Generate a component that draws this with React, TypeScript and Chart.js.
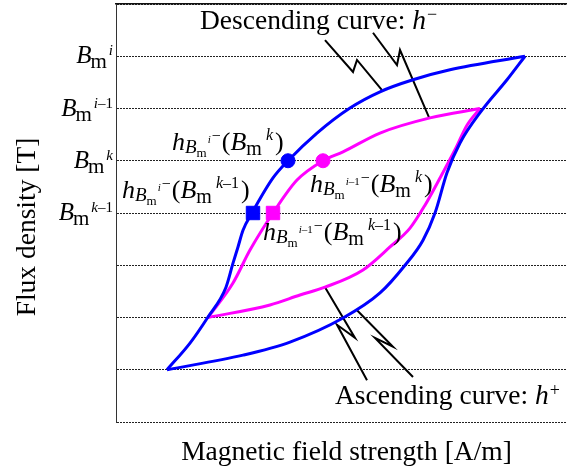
import React, { useEffect, useRef } from 'react';
import Chart from 'chart.js/auto';

const FONT = '"Liberation Serif", "Times New Roman", Times, serif';

// Outer (blue) loop: descending branch h- and ascending branch h+
const blueDescH = [409, 334, 297, 264, 234, 201, 172, 157, 136, 127, 122, 117, 110, 92, 74, 51];
const blueDescB = [7.0, 6.74, 6.55, 6.32, 6.01, 5.53, 5.0, 4.67, 4.0, 3.67, 3.35, 3.04, 2.58, 2.01, 1.51, 1.0];
const blueAscH = [51, 127, 174, 227, 264, 289, 307, 319, 331, 344, 366, 391, 409];
const blueAscB = [1.0, 1.28, 1.53, 1.99, 2.47, 3.0, 3.48, 4.0, 4.77, 5.34, 5.97, 6.55, 7.0];

// Inner (magenta) loop
const magDescH = [364, 314, 264, 227, 207, 181, 157, 134, 117, 92];
const magDescB = [6.0, 5.82, 5.53, 5.17, 5.0, 4.63, 4.0, 3.29, 2.66, 2.0];
const magAscH = [92, 154, 184, 209, 247, 274, 294, 309, 324, 339, 351, 364];
const magAscB = [2.0, 2.24, 2.43, 2.58, 2.91, 3.35, 3.71, 4.15, 4.67, 5.21, 5.68, 6.0];

// Marked points
const blueCircleH = [172];
const blueCircleB = [5];
const magCircleH = [207];
const magCircleB = [5];
const blueSquareH = [137];
const blueSquareB = [4];
const magSquareH = [157];
const magSquareB = [4];

// Zig-zag leader lines
const leadDesc1H = [209, 237, 241, 266];
const leadDesc1B = [7.31, 6.7, 6.93, 6.35];
const leadDesc2H = [257, 281, 284, 313];
const leadDesc2B = [7.45, 6.83, 7.12, 5.83];
const leadAsc1H = [209, 239, 221, 251];
const leadAsc1B = [2.58, 1.61, 1.86, 0.8];
const leadAsc2H = [241, 277, 259, 297];
const leadAsc2B = [2.14, 1.44, 1.61, 0.86];

// Y tick labels B_m^(sup)
const yTickValues = [7, 6, 5, 4];
const yTickSups = ['i', 'i–1', 'k', 'k–1'];

// h-labels
const hSubSups = ['i', 'i', 'i–1', 'i–1'];
const hArgSups = ['k', 'k–1', 'k', 'k–1'];
const hAnchorH = [56, 6, 194, 147];
const hAnchorB = [5.21, 4.29, 4.4, 3.48];

const X_MIN = 0;
const X_MAX = 451;
const Y_MIN = 0;
const Y_MAX = 8;

type Run = { t: string; s: number; it?: boolean; dy?: number; dx?: number };

const fontOf = (r: Run) => `${r.it ? 'italic ' : ''}${r.s}px ${FONT}`;

function runsWidth(ctx: CanvasRenderingContext2D, runs: Run[]) {
  let w = 0;
  for (const r of runs) {
    ctx.font = fontOf(r);
    w += (r.dx || 0) + ctx.measureText(r.t).width;
  }
  return w;
}

function drawRuns(ctx: CanvasRenderingContext2D, runs: Run[], x: number, y: number, align: 'left' | 'right' = 'left') {
  let cx = align === 'right' ? x - runsWidth(ctx, runs) : x;
  ctx.textAlign = 'left';
  ctx.textBaseline = 'alphabetic';
  for (const r of runs) {
    cx += r.dx || 0;
    ctx.font = fontOf(r);
    ctx.fillText(r.t, cx, y + (r.dy || 0));
    cx += ctx.measureText(r.t).width;
  }
}

function supRuns(text: string, s: number, dy: number, dx: number): Run[] {
  const out: Run[] = [{ t: text[0], s, it: true, dy, dx }];
  if (text.length > 1) out.push({ t: text.slice(1), s, dy });
  return out;
}

const tickRuns = (sup: string): Run[] => [
  { t: 'B', s: 25, it: true, dy: 7 },
  { t: 'm', s: 21, dy: 12, dx: -1 },
  ...supRuns(sup, 15, -1, 2),
];

const hRuns = (subSup: string, argSup: string): Run[] => [
  { t: 'h', s: 26, it: true },
  { t: 'B', s: 19, it: true, dy: 3 },
  { t: 'm', s: 13, dy: 7 },
  ...supRuns(subSup, 11, -7, 1),
  { t: '−', s: 16, dy: -9, dx: 1 },
  { t: '(', s: 26, dx: 1 },
  { t: 'B', s: 26, it: true },
  { t: 'm', s: 20, dy: 5 },
  ...supRuns(argSup, 16, -10, 4),
  { t: ')', s: 26, dx: 2 },
];

const pts = (xs: number[], ys: number[]) => xs.map((x, i) => ({ x, y: ys[i] }));

const labelsPlugin = {
  id: 'richLabels',
  afterDraw(chart: any) {
    const ctx: CanvasRenderingContext2D = chart.ctx;
    const xs = chart.scales.x;
    const ys = chart.scales.y;
    const area = chart.chartArea;
    ctx.save();
    ctx.fillStyle = '#000';

    yTickValues.forEach((v, i) => {
      drawRuns(ctx, tickRuns(yTickSups[i]), area.left - 3, ys.getPixelForValue(v), 'right');
    });

    hAnchorH.forEach((h, i) => {
      drawRuns(ctx, hRuns(hSubSups[i], hArgSups[i]), xs.getPixelForValue(h), ys.getPixelForValue(hAnchorB[i]));
    });

    drawRuns(
      ctx,
      [
        { t: 'Descending curve: ', s: 27.5 },
        { t: 'h', s: 27.5, it: true },
        { t: '−', s: 18, dy: -9, dx: 1 },
      ],
      xs.getPixelForValue(84),
      ys.getPixelForValue(7.52)
    );
    drawRuns(
      ctx,
      [
        { t: 'Ascending curve: ', s: 27.5 },
        { t: 'h', s: 27.5, it: true },
        { t: '+', s: 18, dy: -8, dx: 1 },
      ],
      xs.getPixelForValue(219),
      ys.getPixelForValue(0.34)
    );

    ctx.font = `27.5px ${FONT}`;
    ctx.textAlign = 'center';
    ctx.textBaseline = 'alphabetic';
    ctx.fillText('Magnetic field strength [A/m]', (area.left + area.right) / 2 + 5, area.bottom + 38);
    ctx.save();
    ctx.translate(35, (area.top + area.bottom) / 2 + 14);
    ctx.rotate(-Math.PI / 2);
    ctx.fillText('Flux density [T]', 0, 0);
    ctx.restore();

    ctx.restore();
  },
};

export default function App() {
  const ref = useRef<HTMLCanvasElement | null>(null);

  useEffect(() => {
    if (!ref.current) return;
    const curve = (data: any, color: string) => ({
      data,
      showLine: true,
      borderColor: color,
      backgroundColor: color,
      borderWidth: 3,
      pointRadius: 0,
      cubicInterpolationMode: 'monotone',
      fill: false,
    });
    const leader = (data: any) => ({
      data,
      showLine: true,
      borderColor: '#000',
      backgroundColor: '#000',
      borderWidth: 2,
      pointRadius: 0,
      tension: 0,
      fill: false,
    });
    const marker = (data: any, color: string, style: string, r: number) => ({
      data,
      showLine: false,
      pointStyle: style,
      pointRadius: r,
      pointBackgroundColor: color,
      pointBorderColor: color,
      pointBorderWidth: 1,
    });

    const chart = new Chart(ref.current, {
      type: 'scatter',
      data: {
        datasets: [
          marker(pts(blueCircleH, blueCircleB), '#0000ff', 'circle', 7),
          marker(pts(magCircleH, magCircleB), '#ff00ff', 'circle', 7),
          marker(pts(blueSquareH, blueSquareB), '#0000ff', 'rect', 9.5),
          marker(pts(magSquareH, magSquareB), '#ff00ff', 'rect', 9.5),
          curve(pts(blueDescH, blueDescB), '#0000ff'),
          curve(pts(blueAscH, blueAscB), '#0000ff'),
          curve(pts(magDescH, magDescB), '#ff00ff'),
          curve(pts(magAscH, magAscB), '#ff00ff'),
          leader(pts(leadDesc1H, leadDesc1B)),
          leader(pts(leadDesc2H, leadDesc2B)),
          leader(pts(leadAsc1H, leadAsc1B)),
          leader(pts(leadAsc2H, leadAsc2B)),
        ] as any,
      },
      options: {
        responsive: false,
        animation: false,
        events: [],
        layout: { padding: 0, autoPadding: false },
        plugins: { legend: { display: false }, tooltip: { enabled: false }, title: { display: false } },
        scales: {
          x: {
            type: 'linear',
            min: X_MIN,
            max: X_MAX,
            ticks: { display: false },
            grid: { display: false, drawTicks: false },
            border: { display: false },
            afterFit: (s: any) => {
              s.height = 50;
            },
          },
          x2: {
            type: 'linear',
            position: 'top',
            min: X_MIN,
            max: X_MAX,
            ticks: { display: false },
            grid: { display: false, drawTicks: false },
            border: { display: true, color: '#111', width: 1.5 },
            afterFit: (s: any) => {
              s.height = 4;
            },
          },
          y: {
            type: 'linear',
            min: Y_MIN,
            max: Y_MAX,
            ticks: { display: false, stepSize: 1 },
            grid: { color: '#222', lineWidth: 1, drawTicks: false },
            border: { display: true, color: '#333', width: 1, dash: [2, 1] },
            afterFit: (s: any) => {
              s.width = 116;
            },
          },
        } as any,
      },
      plugins: [labelsPlugin],
    });
    return () => chart.destroy();
  }, []);

  return (
    <div style={{ position: 'fixed', left: 0, top: 0, width: 567, height: 472, background: '#fff' }}>
      <canvas ref={ref} width={567} height={472} style={{ display: 'block' }} />
    </div>
  );
}
